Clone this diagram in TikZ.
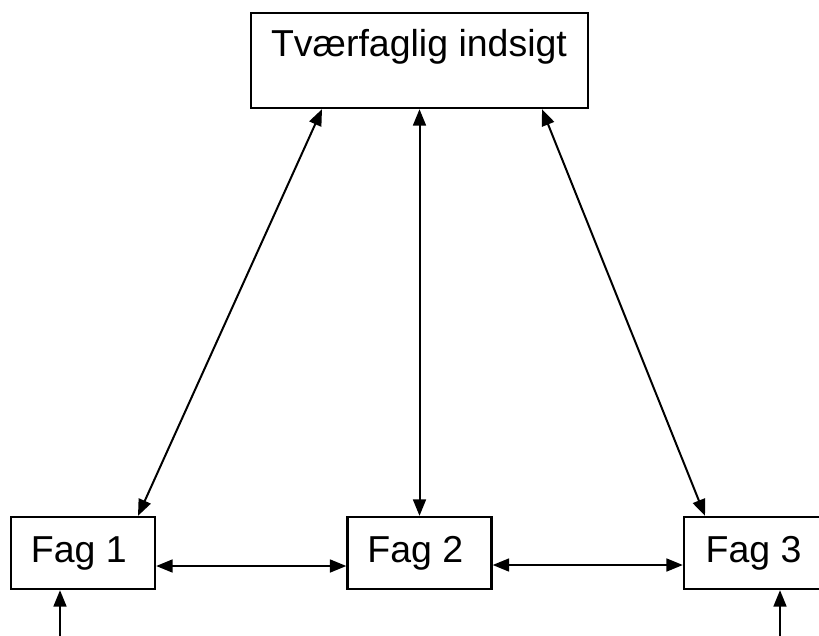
\documentclass[tikz,border=0pt]{standalone}
\usepackage{fontspec}
\setmainfont{Liberation Sans}
\usetikzlibrary{arrows.meta,calc}

\tikzset{
  fagbox/.style={draw, line width=2pt, minimum width=144*0.03cm, minimum height=72*0.03cm, inner sep=0pt},
  pil/.style={line width=1.7pt, {Triangle[length=14pt,width=11pt]}-{Triangle[length=14pt,width=11pt]}},
  enkelpil/.style={line width=1.7pt, -{Triangle[length=14pt,width=11pt]}}
}

\begin{document}
\begin{tikzpicture}[x=0.03cm,y=-0.03cm]
\useasboundingbox (0,0) rectangle (819,635);
\fontsize{32}{38}\selectfont
% top box, text sits upper left
\node[draw, line width=2pt, minimum width=337*0.03cm, minimum height=95*0.03cm] (tv) at (419.5,60.5) {};
\node[anchor=base west, inner sep=0pt] (tvtekst) at ($(tv.north west)+(21,45)$) {Tværfaglig indsigt};
% the three subjects
\node[fagbox] (fag1) at (83,553) {\hspace*{-7pt}Fag 1\vphantom{y}};
\node[fagbox] (fag2) at (419.5,553) {\hspace*{-7pt}Fag 2\vphantom{y}};
\node[fagbox] (fag3) at (756,553) {\hspace*{-4pt}Fag 3\vphantom{y}};
% arrows to the top box
\draw[pil] ($(tv.south)+(-97.5,0)$) -- ($(fag1.north)+(55,0)$);
\draw[pil] (tv.south) -- (fag2.north);
\draw[pil] ($(tv.south)+(122.5,0)$) -- ($(fag3.north)+(-51,0)$);
% arrows between the subjects
\draw[pil] ($(fag1.east)+(0,13)$) -- ($(fag2.west)+(0,13)$);
\draw[pil] ($(fag2.east)+(0,12)$) -- ($(fag3.west)+(0,12)$);
% arrows from below
\coordinate (ind1) at (60,640);
\coordinate (ind3) at (780,640);
\draw[enkelpil] (ind1) -- (ind1 |- fag1.south);
\draw[enkelpil] (ind3) -- (ind3 |- fag3.south);
\end{tikzpicture}
\end{document}
